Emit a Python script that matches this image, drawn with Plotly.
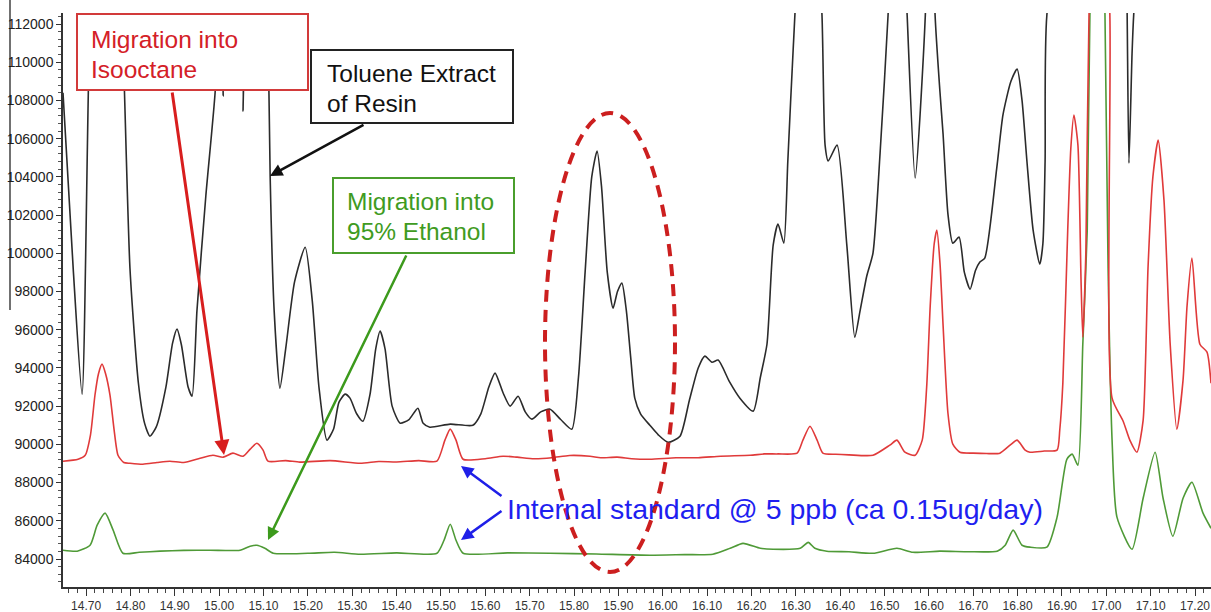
import plotly.graph_objects as go

# ---------------- data (retention time, abundance) ----------------
toluene_time = [14.648, 14.671, 14.691, 14.709, 14.745, 14.781, 14.799, 14.818, 14.832, 14.844, 14.858,
                14.880, 14.895, 14.905, 14.915, 14.930, 14.939, 14.950, 14.970, 14.991, 14.998, 15.003,
                15.009, 15.015, 15.048, 15.054, 15.060, 15.100, 15.110, 15.115, 15.124, 15.137, 15.150,
                15.170, 15.194, 15.210, 15.225, 15.243, 15.258, 15.270, 15.284, 15.295, 15.310, 15.324,
                15.340, 15.353, 15.363, 15.374, 15.390, 15.408, 15.428, 15.448, 15.460, 15.475, 15.521,
                15.572, 15.590, 15.608, 15.622, 15.640, 15.656, 15.674, 15.690, 15.705, 15.725, 15.746,
                15.770, 15.795, 15.810, 15.825, 15.840, 15.852, 15.862, 15.875, 15.888, 15.898, 15.908,
                15.918, 15.928, 15.937, 15.950, 15.971, 15.990, 16.012, 16.039, 16.060, 16.080, 16.095,
                16.111, 16.125, 16.150, 16.174, 16.204, 16.220, 16.235, 16.249, 16.260, 16.273, 16.282,
                16.294, 16.330, 16.359, 16.366, 16.373, 16.393, 16.415, 16.433, 16.445, 16.460, 16.474,
                16.490, 16.508, 16.530, 16.551, 16.569, 16.592, 16.603, 16.614, 16.625, 16.632, 16.643,
                16.654, 16.668, 16.680, 16.693, 16.705, 16.715, 16.726, 16.753, 16.767, 16.785, 16.799,
                16.810, 16.821, 16.835, 16.850, 16.857, 16.862, 16.866, 16.950, 17.040, 17.047, 17.051,
                17.058, 17.062, 17.100, 17.240]
toluene_abund = [108400, 99200, 92630, 112600, 130000, 112600, 99200, 93200, 91100, 90430, 90900,
                 93000, 95300, 96030, 95200, 93000, 92520, 97000, 103000, 108440, 112600, 118000,
                 108230, 118000, 118000, 107440, 118000, 125000, 112470, 104040, 97000, 92940, 95000,
                 98500, 100320, 97500, 93000, 90220, 90800, 92200, 92630, 92420, 91600, 91210,
                 92600, 95000, 95930, 95000, 92000, 91110, 91300, 91890, 91100, 90900, 91060,
                 91000, 91600, 93000, 93730, 92700, 92000, 92520, 91700, 91320, 91700, 91840,
                 91300, 90790, 93500, 99000, 104000, 105350, 103500, 99000, 97130, 98000, 98440,
                 97000, 94500, 92420, 91600, 91000, 90500, 90110, 90430, 92300, 94000, 94620,
                 94300, 94410, 93300, 92420, 91740, 93500, 95240, 100430, 101530, 100530, 104830,
                 110640, 125000, 112470, 105660, 104830, 105660, 100430, 95610, 97000, 98810, 100010,
                 105250, 112470, 125000, 112470, 103940, 112470, 125000, 112470, 108440, 106240, 102050,
                 100530, 100850, 99000, 98120, 99100, 99540, 99750, 104460, 107240, 109000, 109640,
                 108000, 104830, 101210, 99430, 100500, 104830, 112470, 125000, 125000, 112470, 104720,
                 110430, 112600, 125000, 125000]

isooctane_time = [14.648, 14.682, 14.698, 14.710, 14.720, 14.728, 14.736, 14.744, 14.754, 14.763, 14.772,
                  14.785, 14.799, 14.828, 14.860, 14.889, 14.920, 14.957, 14.986, 15.009, 15.031, 15.054,
                  15.070, 15.085, 15.099, 15.110, 15.150, 15.182, 15.250, 15.318, 15.360, 15.400, 15.450,
                  15.491, 15.509, 15.521, 15.534, 15.550, 15.600, 15.640, 15.672, 15.710, 15.750, 15.790,
                  15.836, 15.860, 15.897, 15.930, 15.971, 16.030, 16.080, 16.130, 16.197, 16.230, 16.260,
                  16.303, 16.316, 16.332, 16.348, 16.361, 16.390, 16.420, 16.474, 16.512, 16.528, 16.546,
                  16.569, 16.585, 16.595, 16.603, 16.612, 16.618, 16.625, 16.632, 16.643, 16.654, 16.670,
                  16.700, 16.730, 16.760, 16.783, 16.799, 16.817, 16.828, 16.860, 16.889, 16.895, 16.902,
                  16.913, 16.920, 16.927, 16.936, 16.943, 16.947, 16.954, 16.961, 16.985, 17.008, 17.013,
                  17.038, 17.053, 17.069, 17.083, 17.094, 17.105, 17.117, 17.130, 17.144, 17.159, 17.173,
                  17.182, 17.193, 17.211, 17.227, 17.236]
isooctane_abund = [89120, 89220, 89430, 90500, 92570, 93700, 94200, 93700, 92570, 90800, 89430,
                   89050, 89010, 88960, 89050, 89120, 89050, 89270, 89430, 89330, 89540, 89380,
                   89750, 90060, 89700, 89120, 89150, 89070, 89150, 89010, 89100, 89080, 89150,
                   89120, 90220, 90800, 90220, 89220, 89250, 89380, 89330, 89250, 89300, 89420,
                   89380, 89300, 89330, 89250, 89220, 89300, 89300, 89380, 89430, 89500, 89500,
                   89540, 90220, 90950, 90220, 89540, 89480, 89450, 89430, 89960, 90220, 89590,
                   89430, 90220, 93000, 97240, 100500, 101210, 99500, 96240, 91630, 90010, 89590,
                   89540, 89520, 89540, 89960, 90220, 89700, 89590, 89650, 89700, 90740, 93200,
                   101210, 105500, 107240, 105660, 98600, 95610, 100170, 112470, 125000, 112470, 92420,
                   91210, 90220, 89590, 91260, 99220, 104000, 105930, 102780, 95240, 90790, 93360,
                   97240, 99750, 95240, 94830, 93200]

ethanol_time = [14.648, 14.680, 14.709, 14.725, 14.743, 14.761, 14.783, 14.820, 14.867, 14.920, 14.980,
                15.047, 15.070, 15.085, 15.103, 15.122, 15.200, 15.260, 15.318, 15.400, 15.491, 15.507,
                15.521, 15.534, 15.550, 15.650, 15.746, 15.850, 15.971, 16.050, 16.113, 16.152, 16.181,
                16.220, 16.249, 16.310, 16.328, 16.343, 16.370, 16.420, 16.474, 16.528, 16.564, 16.625,
                16.690, 16.754, 16.772, 16.790, 16.810, 16.828, 16.866, 16.889, 16.911, 16.923, 16.936,
                16.947, 16.957, 16.963, 16.985, 16.997, 17.004, 17.013, 17.024, 17.058, 17.083, 17.110,
                17.128, 17.150, 17.173, 17.193, 17.218, 17.236]
ethanol_abund = [84460, 84410, 84720, 85770, 86400, 85510, 84300, 84350, 84410, 84450, 84460,
                 84460, 84670, 84720, 84560, 84300, 84300, 84350, 84250, 84320, 84300, 84980,
                 85820, 84980, 84300, 84320, 84300, 84260, 84200, 84230, 84250, 84560, 84820,
                 84560, 84510, 84560, 84870, 84560, 84410, 84380, 84300, 84560, 84350, 84410,
                 84380, 84410, 84720, 85510, 84720, 84620, 84620, 86190, 89220, 89490, 88910,
                 95240, 101210, 112470, 125000, 112470, 99220, 90220, 86190, 84510, 87180, 89590,
                 87180, 85190, 87180, 88020, 86400, 85610]

x_tick_vals = [14.70, 14.80, 14.90, 15.00, 15.10, 15.20, 15.30, 15.40, 15.50, 15.60, 15.70, 15.80, 15.90,
               16.00, 16.10, 16.20, 16.30, 16.40, 16.50, 16.60, 16.70, 16.80, 16.90, 17.00, 17.10, 17.20]
x_tick_text = ["14.70", "14.80", "14.90", "15.00", "15.10", "15.20", "15.30", "15.40", "15.50", "15.60",
               "15.70", "15.80", "15.90", "16.00", "16.10", "16.20", "16.30", "16.40", "16.50", "16.60",
               "16.70", "16.80", "16.90", "17.00", "17.10", "17.20"]
y_tick_vals = [84000, 86000, 88000, 90000, 92000, 94000, 96000, 98000, 100000, 102000, 104000,
               106000, 108000, 110000, 112000]
y_tick_text = ["84000", "86000", "88000", "90000", "92000", "94000", "96000", "98000", "100000",
               "102000", "104000", "106000", "108000", "110000", "112000"]

# ---------------- figure ----------------
W, H = 1211, 612
ML, MR, MT, MB = 63, 0, 13, 25
FONT = "Liberation Sans, Arial, sans-serif"


def px(x):
    return (x - ML) / (W - ML - MR)


def py(y):
    return (H - MB - y) / (H - MT - MB)


LINE = dict(width=1.6, shape="spline", smoothing=0.6)

fig = go.Figure()
fig.add_trace(go.Scatter(x=toluene_time, y=toluene_abund, mode="lines",
                         line=dict(color="#2b2b2b", **LINE), name="Toluene Extract of Resin"))
fig.add_trace(go.Scatter(x=ethanol_time, y=ethanol_abund, mode="lines",
                         line=dict(color="#4f9a37", **LINE), name="Migration into 95% Ethanol"))
fig.add_trace(go.Scatter(x=isooctane_time, y=isooctane_abund, mode="lines",
                         line=dict(color="#e03a3a", **LINE), name="Migration into Isooctane"))

shapes = [
    # label boxes
    dict(type="rect", xref="paper", yref="paper", x0=px(77), x1=px(308), y0=py(90), y1=py(14),
         line=dict(color="#d23a3a", width=2), fillcolor="white", layer="above"),
    dict(type="rect", xref="paper", yref="paper", x0=px(311), x1=px(513), y0=py(123), y1=py(50),
         line=dict(color="#222222", width=2), fillcolor="white", layer="above"),
    dict(type="rect", xref="paper", yref="paper", x0=px(333), x1=px(514), y0=py(253), y1=py(178),
         line=dict(color="#4a9e2c", width=2), fillcolor="white", layer="above"),
    # dashed ellipse
    dict(type="circle", xref="paper", yref="paper", x0=px(545), x1=px(675), y0=py(572), y1=py(113),
         line=dict(color="#cc1f1f", width=4, dash="12px,8px"), layer="above"),
    # stray border line at far left
    dict(type="line", xref="paper", yref="paper", x0=px(10), x1=px(10), y0=py(310), y1=py(0),
         line=dict(color="#111111", width=1.2)),
]

annotations = []


def text(s, x, y, color, size):
    annotations.append(dict(text=s, xref="paper", yref="paper", x=px(x), y=py(y), xanchor="left",
                            yanchor="middle", showarrow=False, font=dict(family=FONT, size=size, color=color)))


def arrow(tip, tail, color, width):
    annotations.append(dict(text="", xref="paper", yref="paper", x=px(tip[0]), y=py(tip[1]),
                            ax=tail[0] - tip[0], ay=tail[1] - tip[1], showarrow=True,
                            arrowhead=2, arrowsize=1.0, arrowwidth=width, arrowcolor=color))


arrow((224, 455), (172, 91), "#d81e1e", 3)
arrow((270, 176), (365, 124), "#111111", 2.5)
arrow((268, 540), (407, 254), "#3c9a1c", 2.5)
arrow((461, 466), (503, 497), "#1f1fe8", 2.5)
arrow((461, 540), (503, 510), "#1f1fe8", 2.5)

text("Migration into", 89, 40, "#d42027", 24.5)
text("Isooctane", 89, 70, "#d42027", 24.5)
text("Toluene Extract", 325, 73, "#111111", 24.5)
text("of Resin", 325, 103, "#111111", 24.5)
text("Migration into", 345, 202, "#3f9b22", 24.5)
text("95% Ethanol", 345, 232, "#3f9b22", 24.5)
text("Internal standard @ 5 ppb (ca 0.15ug/day)", 505, 509, "#1f1ff0", 28.5)

fig.update_layout(
    width=W, height=H,
    margin=dict(l=ML, r=MR, t=MT, b=MB),
    paper_bgcolor="white", plot_bgcolor="white",
    showlegend=False,
    shapes=shapes, annotations=annotations,
    font=dict(family=FONT),
    xaxis=dict(range=[14.648, 17.236], tickmode="array", tickvals=x_tick_vals, ticktext=x_tick_text,
               ticks="outside", ticklen=7, tickwidth=1.2, tickcolor="#333333",
               showline=True, linecolor="#333333", linewidth=1.5, showgrid=False, zeroline=False,
               tickfont=dict(family=FONT, size=12, color="#333333"),
               minor=dict(tickmode="linear", tick0=14.70, dtick=0.02, ticks="outside", ticklen=4,
                          tickwidth=1, tickcolor="#444444", showgrid=False)),
    yaxis=dict(range=[82535, 112576], tickmode="array", tickvals=y_tick_vals, ticktext=y_tick_text,
               ticks="outside", ticklen=5, tickwidth=1.2, tickcolor="#333333",
               showline=True, linecolor="#333333", linewidth=1.5, showgrid=False, zeroline=False,
               tickfont=dict(family=FONT, size=14, color="#222222"),
               minor=dict(tickmode="linear", tick0=84000, dtick=400, ticks="outside", ticklen=3,
                          tickwidth=1, tickcolor="#555555", showgrid=False)),
)

fig.write_html("out.html", config={"displayModeBar": False},
               post_script="document.body.style.margin='0';document.body.style.overflow='hidden';")
